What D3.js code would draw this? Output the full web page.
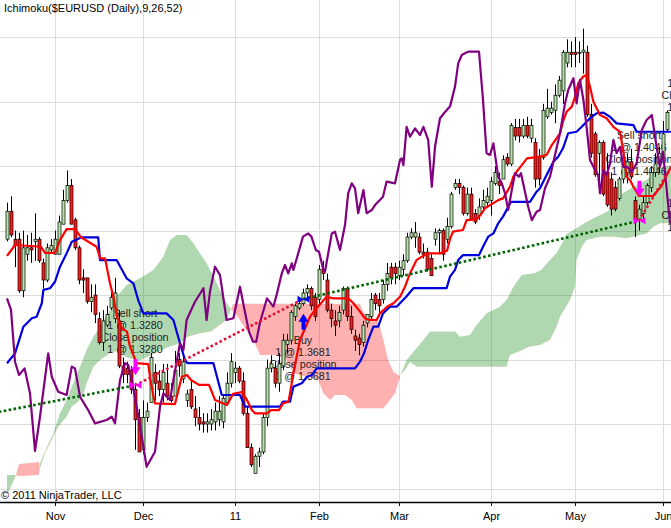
<!DOCTYPE html>
<html lang="en">
<head>
<meta charset="UTF-8">
<title>Ichimoku($EURUSD (Daily),9,26,52)</title>
<script src="https://d3js.org/d3.v7.min.js"></script>
<style>
  body { margin: 0; background: #fff; }
  svg { display: block; }
  text { font-family: "Liberation Sans", Arial, sans-serif; }
</style>
</head>
<body>
<div id="chart"></div>
<script>
// one bar per weekday, bar 0 = 1 Nov 2010
const tickBars = [0, 22, 45, 66, 86, 109, 130, 152];
const tickLabels = ["Nov", "Dec", "11", "Feb", "Mar", "Apr", "May", "Jun"];
const priceGrid = [1.28, 1.31, 1.34, 1.37, 1.40, 1.43, 1.46, 1.49];

const firstBar = -12;
const opens = [
  1.396,1.409,1.396,1.396,1.372,1.389,1.392,1.395,1.396,1.385,1.377,1.391,
  1.389,1.389,1.403,1.414,1.421,1.405,1.392,1.378,1.378,1.367,1.370,1.359,
  1.348,1.356,1.364,1.359,1.358,1.337,1.336,1.335,1.326,1.313,1.298,1.313,
  1.320,1.334,1.330,1.326,1.329,1.323,1.323,1.340,1.331,1.321,1.326,1.317,
  1.313,1.311,1.310,1.310,1.311,1.312,1.311,1.320,1.329,1.334,1.336,1.330,
  1.315,1.299,1.287,1.295,1.297,1.313,1.336,1.336,1.329,1.337,1.347,1.349,
  1.360,1.364,1.366,1.371,1.373,1.369,1.368,1.382,1.377,1.363,1.358,1.358,
  1.363,1.373,1.360,1.351,1.350,1.348,1.357,1.360,1.370,1.368,1.368,1.375,
  1.383,1.383,1.379,1.382,1.386,1.397,1.397,1.397,1.390,1.390,1.387,1.396,
  1.399,1.400,1.396,1.402,1.420,1.422,1.420,1.408,1.417,1.408,1.407,1.411,
  1.413,1.414,1.422,1.423,1.424,1.434,1.431,1.448,1.448,1.444,1.449,1.443,
  1.441,1.434,1.434,1.453,1.455,1.456,1.463,1.465,1.478,1.483,1.483,1.483,
  1.483,1.483,1.454,1.445,1.436,1.441,1.427,1.424,1.420,1.415,1.424,1.427,
  1.432,1.414,1.405,1.408,1.413,1.420,1.427,1.431,1.434,1.447
];
const highs = [
  1.413,1.416,1.400,1.399,1.400,1.398,1.399,1.408,1.397,1.387,1.394,1.396,
  1.400,1.407,1.419,1.428,1.424,1.406,1.393,1.382,1.378,1.375,1.375,1.362,
  1.363,1.365,1.372,1.378,1.363,1.341,1.339,1.337,1.329,1.317,1.321,1.320,
  1.343,1.338,1.335,1.338,1.338,1.329,1.344,1.343,1.341,1.326,1.330,1.323,
  1.318,1.315,1.315,1.317,1.320,1.323,1.323,1.334,1.343,1.339,1.337,1.334,
  1.318,1.301,1.296,1.299,1.315,1.340,1.342,1.339,1.343,1.352,1.352,1.363,
  1.366,1.368,1.373,1.375,1.374,1.371,1.384,1.386,1.380,1.366,1.363,1.365,
  1.374,1.374,1.365,1.354,1.352,1.358,1.361,1.371,1.371,1.371,1.377,1.385,
  1.385,1.385,1.386,1.389,1.399,1.401,1.404,1.399,1.394,1.392,1.389,1.401,
  1.401,1.401,1.406,1.418,1.424,1.424,1.421,1.420,1.420,1.410,1.415,1.419,
  1.420,1.425,1.430,1.427,1.435,1.436,1.450,1.452,1.452,1.452,1.453,1.452,
  1.443,1.438,1.459,1.466,1.460,1.468,1.472,1.484,1.489,1.488,1.490,1.488,
  1.494,1.486,1.459,1.446,1.442,1.442,1.436,1.427,1.423,1.425,1.435,1.436,
  1.438,1.416,1.412,1.416,1.422,1.430,1.436,1.439,1.451,1.456
];
const lows = [
  1.395,1.397,1.383,1.371,1.369,1.386,1.385,1.386,1.385,1.373,1.376,1.390,
  1.389,1.389,1.403,1.413,1.403,1.391,1.375,1.371,1.366,1.362,1.357,1.347,
  1.344,1.355,1.363,1.357,1.336,1.329,1.329,1.324,1.298,1.297,1.296,1.311,
  1.320,1.321,1.323,1.320,1.321,1.320,1.323,1.332,1.329,1.318,1.317,1.309,
  1.307,1.306,1.306,1.307,1.307,1.309,1.308,1.319,1.327,1.329,1.329,1.314,
  1.299,1.290,1.287,1.290,1.296,1.309,1.334,1.327,1.325,1.335,1.343,1.347,
  1.358,1.363,1.365,1.369,1.363,1.358,1.366,1.377,1.362,1.355,1.351,1.355,
  1.361,1.358,1.352,1.344,1.342,1.346,1.355,1.359,1.363,1.360,1.366,1.372,
  1.375,1.375,1.377,1.379,1.385,1.396,1.392,1.389,1.387,1.381,1.379,1.393,
  1.389,1.386,1.394,1.401,1.419,1.417,1.407,1.407,1.405,1.403,1.405,1.410,
  1.411,1.407,1.421,1.417,1.424,1.430,1.430,1.442,1.441,1.443,1.443,1.441,
  1.420,1.421,1.433,1.452,1.454,1.450,1.462,1.459,1.476,1.476,1.476,1.478,
  1.473,1.453,1.434,1.425,1.417,1.416,1.411,1.407,1.409,1.414,1.422,1.422,
  1.424,1.397,1.400,1.405,1.412,1.418,1.425,1.427,1.431,1.446
];
const closes = [
  1.409,1.398,1.393,1.372,1.392,1.392,1.391,1.396,1.386,1.377,1.392,1.393,
  1.396,1.404,1.414,1.421,1.403,1.392,1.377,1.377,1.367,1.369,1.361,1.348,
  1.358,1.361,1.369,1.371,1.337,1.333,1.333,1.326,1.312,1.297,1.313,1.316,
  1.341,1.329,1.326,1.334,1.323,1.321,1.335,1.337,1.339,1.324,1.318,1.313,
  1.310,1.310,1.311,1.312,1.316,1.316,1.322,1.329,1.339,1.336,1.330,1.315,
  1.299,1.291,1.295,1.297,1.313,1.336,1.338,1.329,1.338,1.349,1.349,1.362,
  1.365,1.366,1.371,1.373,1.365,1.360,1.382,1.380,1.363,1.359,1.356,1.362,
  1.373,1.360,1.354,1.349,1.347,1.356,1.361,1.368,1.366,1.365,1.375,1.380,
  1.378,1.380,1.383,1.386,1.397,1.399,1.399,1.390,1.389,1.382,1.379,1.399,
  1.400,1.389,1.402,1.417,1.422,1.420,1.408,1.417,1.405,1.404,1.411,1.414,
  1.416,1.423,1.427,1.421,1.433,1.431,1.449,1.444,1.444,1.449,1.444,1.449,
  1.424,1.424,1.456,1.457,1.457,1.463,1.470,1.483,1.483,1.482,1.482,1.483,
  1.484,1.454,1.436,1.426,1.441,1.417,1.412,1.410,1.410,1.424,1.434,1.432,
  1.425,1.405,1.410,1.413,1.421,1.427,1.431,1.436,1.445,1.455
];

// indicator plots, [bar, price]
const tenkan = [[-12,1.3882],[-10,1.3933],[-3.5,1.3925],[-2.5,1.3896],[0,1.3896],[1.25,1.3956],[2.9,1.4007],[5,1.4007],[6.5,1.3969],[10.4,1.3925],[11.3,1.3871],[12.5,1.3871],[13.75,1.3755],[14.6,1.3692],[15.5,1.3599],[16.7,1.3545],[18,1.3530],[18.75,1.3460],[20.4,1.3383],[23.3,1.3379],[24,1.3289],[25,1.3196],[30,1.3193],[31.7,1.3320],[33,1.3328],[34,1.3305],[36,1.3282],[38.5,1.3282],[40,1.3212],[43,1.3189],[44.5,1.3240],[46.7,1.3249],[48,1.3212],[49.2,1.3165],[50,1.3150],[53,1.3150],[54,1.3165],[56,1.3165],[57,1.3196],[58.4,1.3204],[59.6,1.3336],[61.25,1.3491],[63.75,1.3599],[65,1.3631],[67.9,1.3692],[69.6,1.3685],[73.3,1.3685],[74.6,1.3662],[76.25,1.3623],[77.5,1.3592],[78.5,1.3584],[80.4,1.3584],[81.25,1.3615],[83,1.3646],[84.6,1.3662],[86.25,1.3692],[87.5,1.3739],[88.75,1.3801],[90.4,1.3863],[91.7,1.3879],[93.3,1.3894],[96.25,1.3894],[98,1.3906],[98.75,1.3960],[99.5,1.3995],[102,1.4003],[102.9,1.4049],[105.4,1.4052],[106.7,1.4081],[107.5,1.4104],[110.8,1.4142],[112,1.4150],[113.75,1.4204],[114.6,1.4251],[115.4,1.4274],[116.7,1.4305],[118,1.4336],[121.25,1.4344],[122.9,1.4352],[124.2,1.4398],[126.25,1.4453],[127,1.4507],[127.9,1.4553],[129.2,1.4577],[130,1.4623],[130.8,1.4685],[132,1.4716],[132.9,1.4724],[133.75,1.4670],[134.6,1.4600],[136.25,1.4538],[137.9,1.4523],[139.6,1.4483],[141.25,1.4460],[142.1,1.4367],[142.9,1.4251],[143.75,1.4235],[144.6,1.4204],[146,1.4161],[149.5,1.4161],[151.5,1.4204],[154,1.4297]];

const kijun = [[-12,1.3383],[-10,1.3429],[-7.9,1.3553],[-5.8,1.3592],[-4.6,1.3599],[-3.3,1.3662],[-2.9,1.3724],[-1.25,1.3732],[0,1.3762],[1.25,1.3832],[2.9,1.3894],[4.2,1.3948],[6.7,1.3969],[10.8,1.3969],[11.25,1.3863],[15.4,1.3863],[17.9,1.3778],[19.6,1.3755],[20.8,1.3677],[22.1,1.3615],[27.9,1.3615],[29.6,1.3584],[31.25,1.3476],[32.5,1.3398],[33.1,1.3383],[39.6,1.3383],[41.7,1.3235],[46.25,1.3235],[47.5,1.3181],[56.25,1.3181],[57,1.3204],[58.75,1.3204],[59.6,1.3274],[61.7,1.3290],[63,1.3320],[64.2,1.3328],[65.4,1.3359],[75,1.3359],[76.25,1.3390],[77.25,1.3429],[78.3,1.3491],[79.6,1.3553],[80.8,1.3553],[82,1.3615],[83.75,1.3646],[85.4,1.3646],[87.8,1.3692],[89.6,1.3732],[97.9,1.3732],[98.75,1.3786],[100,1.3817],[100.8,1.3863],[102,1.3886],[106,1.3886],[107,1.3925],[108.3,1.3972],[109.6,1.3987],[110.8,1.4034],[112,1.4065],[114,1.4134],[118.75,1.4134],[120.4,1.4181],[121.25,1.4197],[122.9,1.4259],[124.6,1.4321],[125.8,1.4344],[127,1.4383],[128.3,1.4453],[130.4,1.4460],[131.7,1.4483],[132.9,1.4507],[134.2,1.4530],[135.4,1.4546],[137.1,1.4549],[138.75,1.4530],[140.4,1.4499],[144.6,1.4491],[145.4,1.4460],[154,1.4460]];

const chikou = [[-12,1.3685],[-11,1.3631],[-10,1.3390],[-9,1.3328],[-7.6,1.3359],[-6.25,1.3243],[-5,1.2975],[-3.75,1.3134],[-1.7,1.3429],[-0.8,1.3320],[0.8,1.3250],[2.9,1.3235],[4.2,1.3367],[5,1.3359],[6.25,1.3227],[8.3,1.3165],[10,1.3103],[12.9,1.3119],[14.2,1.3134],[15,1.3103],[16.25,1.3305],[17.5,1.3383],[18.3,1.3375],[19.2,1.3305],[20.4,1.3181],[21.7,1.3041],[22.9,1.2901],[25,1.2971],[26.25,1.3181],[27.1,1.3243],[28.75,1.3212],[29.6,1.3305],[31.25,1.3476],[32.1,1.3444],[32.9,1.3584],[35,1.3669],[37.1,1.3732],[37.9,1.3584],[38.75,1.3717],[40,1.3832],[41.25,1.3793],[42.9,1.3584],[44.6,1.3592],[46.25,1.3739],[47.5,1.3620],[48.5,1.3530],[49.5,1.3483],[50.3,1.3483],[51.2,1.3569],[53,1.3685],[54.6,1.3646],[55.5,1.3708],[56.7,1.3801],[57.5,1.3840],[58.3,1.3801],[59.2,1.3848],[59.6,1.3817],[60.8,1.3894],[62,1.3972],[63.3,1.3987],[64.1,1.3972],[65.2,1.3910],[66,1.3902],[67.1,1.3817],[67.5,1.3809],[68,1.3863],[69.2,1.3987],[70,1.3995],[71.25,1.3910],[72.5,1.4026],[73.3,1.4174],[74.2,1.4220],[75,1.4197],[75.8,1.4081],[77.1,1.4189],[77.9,1.4081],[79.2,1.4096],[80,1.4119],[82,1.4158],[82.9,1.4228],[85,1.4220],[86.25,1.4329],[86.7,1.4336],[87.1,1.4305],[87.9,1.4483],[88.75,1.4437],[90,1.4476],[91.25,1.4445],[92.1,1.4483],[93.3,1.4422],[94.2,1.4204],[95,1.4390],[96.25,1.4523],[97.5,1.4552],[98.75,1.4577],[100,1.4670],[100.8,1.4778],[101.7,1.4817],[102.5,1.4825],[103.3,1.4833],[106,1.4833],[107,1.4608],[107.9,1.4360],[108.75,1.4352],[109.6,1.4406],[110.8,1.4251],[111.7,1.4220],[112.5,1.4174],[113.3,1.4096],[114.2,1.4189],[115,1.4267],[116,1.4251],[116.5,1.4267],[118.3,1.4111],[119.2,1.4049],[120.4,1.4088],[121.25,1.4096],[122.5,1.4197],[123.75,1.4251],[126.25,1.4453],[127.5,1.4592],[128.3,1.4654],[129.6,1.4709],[130.4,1.4592],[131.25,1.4701],[132.1,1.4608],[132.9,1.4483],[133.75,1.4329],[134.6,1.4297],[135.8,1.4259],[136.25,1.4174],[137.1,1.4282],[137.9,1.4259],[138.75,1.4313],[139.6,1.4422],[140.4,1.4360],[141.25,1.4390],[142.1,1.4297],[143,1.4297],[144.2,1.4274],[145.4,1.4313],[146.7,1.4468],[147.9,1.4515],[149.2,1.4538],[150.4,1.4390],[151.25,1.4297],[152,1.4367],[153.75,1.4034]];

const spanA = [[-12,1.2863],[-10,1.2863],[-9,1.2858],[-4,1.2863],[-3.75,1.2917],[-2,1.2994],[-0.4,1.3057],[1.25,1.3150],[2.9,1.3212],[4.2,1.3274],[6.25,1.3367],[7.9,1.3444],[9.6,1.3506],[11.25,1.3553],[13.75,1.3631],[15.4,1.3692],[17.9,1.3747],[21.25,1.3778],[24.6,1.3817],[27.1,1.3879],[28.75,1.3956],[30.4,1.3980],[32.9,1.3980],[34.6,1.3941],[36.25,1.3894],[37.9,1.3848],[39.6,1.3786],[41.25,1.3724],[42.9,1.3662],[44.6,1.3621],[45.4,1.3607],[47.5,1.3547],[49.6,1.3491],[51.25,1.3421],[55.4,1.3421],[57.9,1.3398],[59.6,1.3336],[62.9,1.3320],[65.8,1.3305],[67.1,1.3243],[68.75,1.3212],[70,1.3235],[72.5,1.3235],[74.2,1.3212],[75.4,1.3173],[82.1,1.3173],[83.75,1.3212],[85,1.3243],[86.25,1.3319],[87.9,1.3398],[92.1,1.3491],[93.75,1.3530],[100,1.3530],[101.25,1.3506],[103.75,1.3514],[105.4,1.3561],[107.9,1.3615],[111.25,1.3646],[112.9,1.3677],[114.6,1.3739],[116.7,1.3793],[120,1.3803],[121.5,1.3817],[123.75,1.3863],[125.6,1.3900],[127.9,1.3984],[129.6,1.4003],[132.9,1.4040],[134.6,1.4057],[137.9,1.4087],[139.6,1.4111],[141.25,1.4166],[144.6,1.4204],[147.9,1.4235],[151.25,1.4291],[154,1.4305]];

const spanB = [[-12,1.2770],[-10,1.2849],[-9,1.2914],[-4,1.2923],[-3.75,1.2894],[-2.5,1.2964],[-1.25,1.3010],[0.8,1.3088],[2.9,1.3134],[4.2,1.3181],[5.8,1.3204],[7.2,1.3243],[7.9,1.3289],[9.6,1.3367],[11.25,1.3398],[13.75,1.3429],[15.4,1.3440],[18,1.3410],[21,1.3395],[24,1.3420],[27.9,1.3455],[31.25,1.3476],[33,1.3505],[36.25,1.3522],[39,1.3530],[42.9,1.3584],[44.6,1.3660],[76.25,1.3660],[77.1,1.3620],[80.4,1.3585],[81.25,1.3553],[82.1,1.3491],[83.3,1.3398],[84.6,1.3343],[86.25,1.3323],[87.5,1.3351],[88.75,1.3389],[90.5,1.3367],[112.9,1.3367],[113.75,1.3421],[116,1.3437],[118.5,1.3460],[121.25,1.3468],[123.75,1.3491],[125.4,1.3553],[126.25,1.3599],[128.75,1.3677],[130,1.3739],[130.4,1.3863],[131.7,1.3925],[132.9,1.3956],[136.25,1.3972],[139.6,1.3972],[142.9,1.3964],[146.25,1.3980],[147.9,1.3987],[149.6,1.4018],[151.25,1.4034],[154,1.4034]];

// executions; anchor = bar extreme used to place the arrow when the bar is off the data
const trades = [
  { bar: -30, price: 1.3098, side: "Buy", anchor: 1.3000 },
  { bar: 20, price: 1.3280, side: "Sell short" },
  { bar: 62, price: 1.3681, side: "Buy" },
  { bar: 146, price: 1.4046, side: "Sell short" },
  { bar: 160, price: 1.4480, side: "Buy", anchor: 1.4343 },
  { bar: 160, price: 1.4480, side: "Sell short", anchor: 1.4417 }
];

const W = 671, H = 528, plotBottom = 502;
const svg = d3.select("#chart").append("svg")
  .attr("width", W).attr("height", H);

const x = d3.scaleLinear().domain([0, 152]).range([55, 663]);
const y = d3.scaleLinear().domain([1.28, 1.49]).range([488.5, 37.2]);
const line = d3.line().x(d => x(d[0])).y(d => y(d[1]));

// grid
svg.append("g").selectAll("line").data(priceGrid).join("line")
  .attr("x1", 0).attr("x2", W)
  .attr("y1", d => Math.round(y(d)) + 0.5).attr("y2", d => Math.round(y(d)) + 0.5)
  .attr("stroke", "#dddddd");
svg.append("g").selectAll("line").data(tickBars).join("line")
  .attr("x1", d => x(d) + 0.5).attr("x2", d => x(d) + 0.5)
  .attr("y1", 0).attr("y2", plotBottom)
  .attr("stroke", "#dddddd");

// cloud: green where span A is above span B, red where below
const defs = svg.append("defs");
const bPath = line(spanB);
const b0 = x(spanB[0][0]), b1 = x(spanB[spanB.length - 1][0]);
defs.append("clipPath").attr("id", "aboveB").append("path")
  .attr("d", bPath + `L${b1},-10L${b0},-10Z`);
defs.append("clipPath").attr("id", "belowB").append("path")
  .attr("d", bPath + `L${b1},${H + 10}L${b0},${H + 10}Z`);
const cloud = line(spanA.concat(spanB.slice().reverse())) + "Z";
svg.append("path").attr("d", cloud).attr("fill", "rgba(0,128,0,0.31)")
  .attr("clip-path", "url(#aboveB)");
svg.append("path").attr("d", cloud).attr("fill", "rgba(255,0,0,0.31)")
  .attr("clip-path", "url(#belowB)");

// execution labels (drawn under the bars); skip those left of the window
function anchorY(t) {
  const i = t.bar - firstBar;
  const a = t.anchor !== undefined ? t.anchor
    : (t.side === "Buy" ? lows[i] : highs[i]);
  return y(a);
}
const shown = trades.filter(t => t.bar >= firstBar);
const labels = svg.append("g").attr("font-size", "10.7px").attr("fill", "#222")
  .attr("text-anchor", "middle");
shown.forEach(t => {
  const lines = [t.side, `1 @ ${t.price.toFixed(4)}`, "Close position", `1 @ ${t.price.toFixed(4)}`];
  const ay = anchorY(t);
  lines.forEach((s, j) => {
    const cy = t.side === "Buy" ? ay + 34 + 12 * j : ay - 34 - 12 * (3 - j);
    labels.append("text").attr("x", x(t.bar)).attr("y", cy + 4).text(s);
  });
});

// candles
const bars = d3.range(opens.length).map(i => ({
  k: i + firstBar, o: opens[i], h: highs[i], l: lows[i], c: closes[i]
}));
const cg = svg.append("g");
cg.selectAll("line").data(bars).join("line")
  .attr("x1", d => x(d.k) + 0.5).attr("x2", d => x(d.k) + 0.5)
  .attr("y1", d => y(d.h)).attr("y2", d => y(d.l))
  .attr("stroke", "#000").attr("stroke-width", 1);
cg.selectAll("rect").data(bars).join("rect")
  .attr("x", d => x(d.k) - 1).attr("width", 3)
  .attr("y", d => y(Math.max(d.o, d.c)))
  .attr("height", d => Math.max(1, Math.abs(y(d.o) - y(d.c))))
  .attr("fill", d => d.c >= d.o ? "#b5e3a8" : "#ff1a1a")
  .attr("stroke", "#000").attr("stroke-width", 0.7);

// ichimoku lines
[[kijun, "#0000dd"], [tenkan, "#ff0000"], [chikou, "#800080"]].forEach(([data, col]) => {
  svg.append("path").attr("d", line(data)).attr("fill", "none")
    .attr("stroke", col).attr("stroke-width", 2.2).attr("stroke-linejoin", "round");
});

// trade lines between consecutive executions
for (let i = 0; i < trades.length - 1; i++) {
  const a = trades[i], b = trades[i + 1];
  if (a.bar === b.bar) continue;
  const win = a.side === "Buy" ? b.price > a.price : b.price < a.price;
  svg.append("line")
    .attr("x1", x(a.bar)).attr("y1", y(a.price))
    .attr("x2", x(b.bar)).attr("y2", y(b.price))
    .attr("stroke", win ? "#006400" : "#dc143c")
    .attr("stroke-width", 2.6).attr("stroke-dasharray", "2.6,2.4");
}

// arrows and execution markers
shown.forEach(t => {
  const cx = x(t.bar) + 0.5, ay = anchorY(t);
  const col = t.side === "Buy" ? "#0000ff" : "#ff00ff";
  let pts;
  if (t.side === "Buy") {
    const tip = ay + 8;
    pts = [[cx, tip], [cx + 5, tip + 8], [cx + 2, tip + 8], [cx + 2, tip + 16],
           [cx - 2, tip + 16], [cx - 2, tip + 8], [cx - 5, tip + 8]];
  } else {
    const tip = ay - 8;
    pts = [[cx, tip], [cx + 5, tip - 8], [cx + 2, tip - 8], [cx + 2, tip - 16],
           [cx - 2, tip - 16], [cx - 2, tip - 8], [cx - 5, tip - 8]];
  }
  svg.append("polygon").attr("points", pts.map(p => p.join(",")).join(" ")).attr("fill", col);
  const py = y(t.price);
  svg.append("polygon").attr("fill", col)
    .attr("points", `${cx - 6},${py - 3.5} ${cx},${py} ${cx - 6},${py + 3.5}`);
  svg.append("polygon").attr("fill", col)
    .attr("points", `${cx + 6},${py - 3.5} ${cx},${py} ${cx + 6},${py + 3.5}`);
});

// x axis
svg.append("line").attr("x1", 0).attr("x2", W)
  .attr("y1", plotBottom + 0.5).attr("y2", plotBottom + 0.5)
  .attr("stroke", "#000").attr("stroke-width", 1.3);
const ax = svg.append("g");
ax.selectAll("line").data(tickBars).join("line")
  .attr("x1", d => x(d) + 0.5).attr("x2", d => x(d) + 0.5)
  .attr("y1", plotBottom).attr("y2", plotBottom + 4)
  .attr("stroke", "#000");
ax.selectAll("text").data(tickBars).join("text")
  .attr("x", d => x(d) + 0.5).attr("y", 520)
  .attr("text-anchor", "middle").attr("font-size", "11px").attr("fill", "#000")
  .text((d, i) => tickLabels[i]);

svg.append("text").attr("x", 4).attr("y", 12).attr("font-size", "11px")
  .attr("fill", "#000").text("Ichimoku($EURUSD (Daily),9,26,52)");
svg.append("text").attr("x", 1).attr("y", 499).attr("font-size", "11px")
  .attr("fill", "#000").text("\u00a9 2011 NinjaTrader, LLC");
</script>
</body>
</html>
